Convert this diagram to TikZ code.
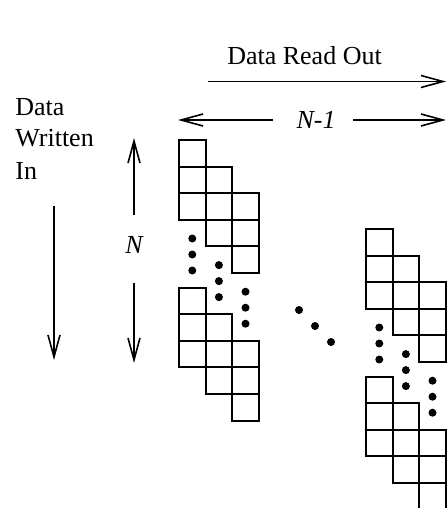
\documentclass[tikz,border=0pt]{standalone}
\usepackage{fontspec}
\setmainfont{Liberation Serif}
\usetikzlibrary{arrows.meta}

\begin{document}
\begin{tikzpicture}[x=0.5pt, y=-0.5pt, font=\fontsize{13}{16}\selectfont,
		arr/.style={line width=0.8pt, -{Straight Barb[length=11pt, width=6pt]}},
		cell/.style={line width=1pt}]
	\useasboundingbox (0,0) rectangle (446,508);
	\def\csz{26.6}
	
	% read-out direction
	\node[anchor=base] (rd) at (304.5,65) {Data Read Out};
	\coordinate (ro1) at (208,81.5);
	\coordinate (ro2) at (446,81.5);
	\draw[arr] (ro1) -- (ro2);
	
	\node (nm1) at (316,120) {\itshape N-1};
	\coordinate (nl) at (178,120);
	\coordinate (nr) at (446,120);
	\draw[arr, shorten <=21.5pt] (nm1.center) -- (nl);
	\draw[arr, shorten <=18.5pt] (nm1.center) -- (nr);
	
	% write-in direction
	\node[anchor=base west, inner sep=0] (wr1) at (15,115) {Data};
	\node[anchor=base west, inner sep=0] (wr2) at (15,147) {Written};
	\node[anchor=base west, inner sep=0] (wr3) at (15,179) {In};
	\coordinate (wi1) at (54,206);
	\coordinate (wi2) at (54,360);
	\draw[arr] (wi1) -- (wi2);
	
	\node (nn) at (134,245) {\itshape N};
	\coordinate (nup) at (134,138);
	\coordinate (ndn) at (134,363);
	\draw[arr, shorten <=15pt] (nn.center) -- (nup);
	\draw[arr, shorten <=19pt] (nn.center) -- (ndn);
	
	% staircases of cells
	\foreach \bx/\by in {179/140, 366/229}
		\foreach \g in {0,147.5}
			\foreach \i in {0,1,2}
				\foreach \j in {0,1,2}
					\draw[cell] (\bx+\csz*\i, \by+\g+\csz*\i+\csz*\j) rectangle ++(\csz,\csz);
	
	\foreach \bx/\by in {179/140, 366/229}
		\foreach \i in {0,1,2}
			\foreach \k in {0,1,2}
				\fill (\bx+\csz*\i+\csz/2, \by+98.5+\csz*\i+16*\k) circle (4);
	
	\foreach \p in {(299,310), (315,326), (331,342)}
		\fill \p circle (4);
\end{tikzpicture}
\end{document}
